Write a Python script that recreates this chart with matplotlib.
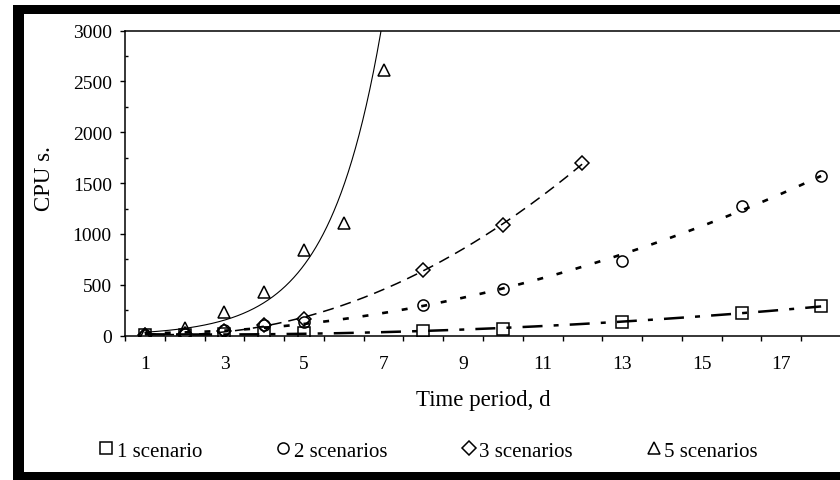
import numpy as np
import matplotlib
matplotlib.use("Agg")
import matplotlib.pyplot as plt
from matplotlib.lines import Line2D
from matplotlib.patches import Rectangle
from matplotlib.ticker import MultipleLocator, FixedLocator, NullFormatter

plt.rcParams["font.family"] = ["Liberation Serif", "DejaVu Serif"]
plt.rcParams["lines.scale_dashes"] = False

# CPU time (s) by length of the time period (days)
days_1 = [1, 2, 3, 4, 5, 8, 10, 13, 16, 18]
cpu_1 = [5, 10, 15, 22, 30, 43, 66, 138, 223, 289]

days_2 = [1, 2, 3, 4, 5, 8, 10, 13, 16, 18]
cpu_2 = [5, 15, 60, 110, 130, 302, 460, 738, 1274, 1566]

days_3 = [1, 2, 3, 4, 5, 8, 10, 12]
cpu_3 = [5, 20, 50, 105, 164, 647, 1084, 1697]

days_5 = [1, 2, 3, 4, 5, 6, 7]
cpu_5 = [20, 80, 235, 425, 845, 1110, 2610]

labels = ["1 scenario", "2 scenarios", "3 scenarios", "5 scenarios"]
x_tick_labels = [1, 3, 5, 7, 9, 11, 13, 15, 17]

W, H = 840, 481
fig = plt.figure(figsize=(W / 100, H / 100), dpi=100)
fig.patch.set_facecolor("white")

# plot area in pixel terms
left_px, right_px, top_px, bottom_px = 125, 841, 31.5, 336.7
ax = fig.add_axes([left_px / W, 1 - bottom_px / H,
                   (right_px - left_px) / W, (bottom_px - top_px) / H])
ax.set_xlim(0.5, 18.5)
ax.set_ylim(0, 3000)


def poly_trend(x, y, xs):
    return np.polyval(np.polyfit(x, y, 2), xs)


def exp_trend(x, y, xs):
    b, a = np.polyfit(x, np.log(y), 1)
    return np.exp(a + b * xs)


styles = {
    "1": dict(marker="s", ms=8, dashes=(14.4, 8, 3.6, 8), lw=1.8),
    "2": dict(marker="o", ms=8, dashes=(4.3, 10), lw=1.9),
    "3": dict(marker="D", ms=7, dashes=(8, 5), lw=1.1),
    "5": dict(marker="^", ms=9, dashes=None, lw=0.8),
}

series = [
    ("1", days_1, cpu_1, poly_trend),
    ("2", days_2, cpu_2, poly_trend),
    ("3", days_3, cpu_3, poly_trend),
    ("5", days_5, cpu_5, exp_trend),
]

handles = []
for key, x, y, trend in series:
    st = styles[key]
    xs = np.linspace(min(x), max(x), 400)
    ys = trend(np.array(x, float), np.array(y, float), xs)
    line, = ax.plot(xs, ys, color="black", lw=st["lw"])
    if st["dashes"] is not None:
        line.set_dashes(st["dashes"])
    ax.plot(x, y, linestyle="none", marker=st["marker"], ms=st["ms"],
            mfc="none", mec="black", mew=1.1)
    handles.append(Line2D([], [], linestyle="none", marker=st["marker"],
                          ms=st["ms"], mfc="none", mec="black", mew=1.1))

# axes styling
for sp in ax.spines.values():
    sp.set_linewidth(1.1)
ax.spines["right"].set_visible(False)

ax.yaxis.set_major_locator(MultipleLocator(500))
ax.yaxis.set_minor_locator(MultipleLocator(250))
ax.tick_params(axis="y", which="major", direction="out", length=3.5,
               width=1.0, labelsize=14, pad=6)
ax.tick_params(axis="y", which="minor", direction="in", length=2.5, width=1.0)

ax.xaxis.set_major_locator(FixedLocator(x_tick_labels))
ax.set_xticklabels([str(v) for v in x_tick_labels])
ax.xaxis.set_minor_locator(FixedLocator(np.arange(0.5, 19.0, 1.0)))
ax.xaxis.set_minor_formatter(NullFormatter())
ax.tick_params(axis="x", which="major", length=0, labelsize=14, pad=14)
ax.tick_params(axis="x", which="minor", direction="out", length=3.6, width=1.0)

ax.set_xlabel("Time period, d", fontsize=16.5)
ax.xaxis.set_label_coords(0.5, -(390 - bottom_px) / (bottom_px - top_px))

ax.set_ylabel("CPU s.", fontsize=16.5)
ax.yaxis.label.set_verticalalignment("center")
ax.yaxis.set_label_coords((45 - left_px) / (right_px - left_px),
                          (bottom_px - 179) / (bottom_px - top_px))

leg = ax.legend(handles, labels, loc="center",
                bbox_to_anchor=((428.5 - left_px) / (right_px - left_px),
                                -(452 - bottom_px) / (bottom_px - top_px)),
                ncol=4, frameon=False, fontsize=15, handlelength=0.7,
                handletextpad=0.15, columnspacing=3.55, borderaxespad=0)

# black frame around the chart
frame_kw = dict(transform=fig.transFigure, facecolor="black",
                edgecolor="none", zorder=10)
fig.patches.append(Rectangle((13 / W, 1 - 15 / H), 1 - 13 / W, 9 / H, **frame_kw))
fig.patches.append(Rectangle((13 / W, 0), 11 / W, 1 - 6 / H, **frame_kw))
fig.patches.append(Rectangle((13 / W, 0), 1 - 13 / W, 8 / H, **frame_kw))

fig.savefig("out.png", dpi=100, facecolor="white")
